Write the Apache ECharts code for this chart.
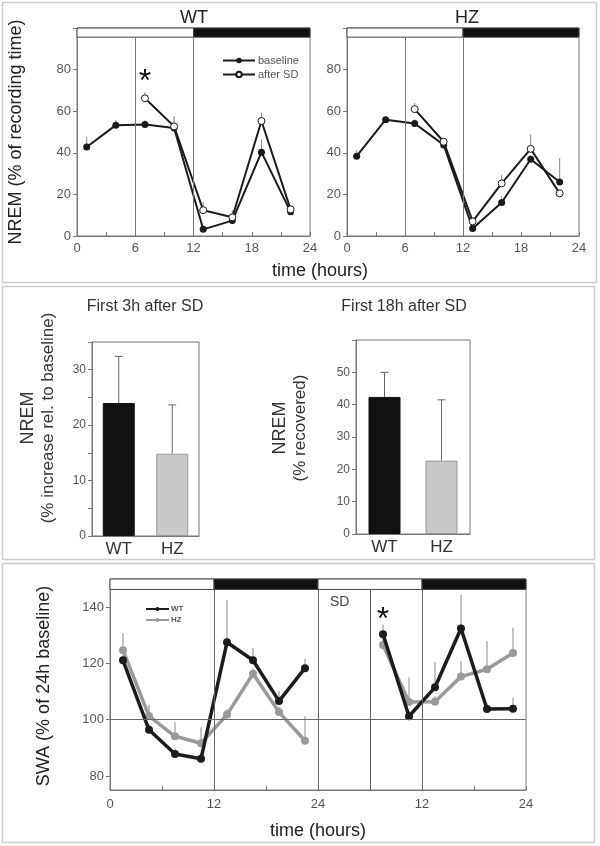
<!DOCTYPE html>
<html><head><meta charset="utf-8">
<script src="https://cdn.jsdelivr.net/npm/echarts@6/dist/echarts.min.js"></script>
<style>html,body{margin:0;padding:0;background:#fff}#c{width:600px;height:846px}</style>
</head><body><div id="c"></div>
<script>
// ---------- data ----------
const hoursAll = [1, 4, 7, 10, 13, 16, 19, 22];
const hoursSD = [7, 10, 13, 16, 19, 22];
const wtBaseline = [42.8, 53.3, 53.6, 51.9, 3.2, 7.4, 40.3, 11.6];
const wtBaselineErr = [5, 2.5, 2, 1.5, 1, 5, 6, 2];
const wtAfterSD = [66.2, 52.7, 12.4, 9.0, 55.3, 12.8];
const wtAfterSDErr = [3, 5, 4, 1.5, 4, 2];
const hzBaseline = [38.4, 55.9, 54.1, 43.8, 3.6, 16.1, 36.9, 26.0];
const hzBaselineErr = [3, 1.5, 2, 1.5, 1, 3, 2, 11.5];
const hzAfterSD = [61.0, 45.3, 7.0, 25.3, 41.9, 20.5];
const hzAfterSDErr = [3, 1.5, 2, 4, 7, 2];
const topXTicks = [0, 6, 12, 18, 24];
const topYTicks = [0, 20, 40, 60, 80];

const barCats = ['WT', 'HZ'];
const first3h = [24.0, 14.85];
const first3hErr = [8.4, 8.8];
const first18h = [42.4, 22.7];
const first18hErr = [7.6, 18.8];

const swaHours1 = [1.5, 4.5, 7.5, 10.5, 13.5, 16.5, 19.5, 22.5];
const swaHours2 = [31.5, 34.5, 37.5, 40.5, 43.5, 46.5];
const swaWT1 = [121.1, 96.4, 87.8, 86.1, 127.5, 121.1, 106.6, 118.3];
const swaWT1Err = [2, 2, 2, 2, 15, 4.4, 3.7, 3.3];
const swaHZ1 = [124.7, 101.3, 94.1, 91.6, 101.8, 116.3, 102.7, 92.5];
const swaHZ1Err = [6, 4, 5, 5.7, 2, 2, 2, 8.7];
const swaWT2 = [130.4, 101.2, 111.5, 132.4, 103.8, 103.9];
const swaWT2Err = [3.4, 2, 9, 12, 2, 4];
const swaHZ2 = [126.5, 106.3, 106.4, 115.3, 117.9, 123.7];
const swaHZ2Err = [2, 8.7, 2, 5.5, 10, 9];
const swaYTicks = [80, 100, 120, 140];

// light/dark phases [start, end, isDark]
const topPhases = [[0, 12, false], [12, 24, true]];
const swaPhases = [[0, 12, false], [12, 24, true], [24, 36, false], [36, 48, true]];

// ---------- helpers ----------
const FONT = 'Liberation Sans, Arial, sans-serif';
const zip = (xs, ys) => xs.map((x, i) => [x, ys[i]]);
const zip3 = (xs, ys, es) => xs.map((x, i) => [x, ys[i], es[i]]);
const axisGray = '#777';
const labelGray = '#555';

function errSeries(name, xi, yi, data, color, cap, z) {
  return {
    name, type: 'custom', xAxisIndex: xi, yAxisIndex: yi, z: z || 1, silent: true,
    data,
    renderItem(params, api) {
      const p0 = api.coord([api.value(0), api.value(1)]);
      const p1 = api.coord([api.value(0), api.value(1) + api.value(2)]);
      const children = [{ type: 'line', shape: { x1: p0[0], y1: p0[1], x2: p1[0], y2: p1[1] }, style: { stroke: color, lineWidth: 1 } }];
      if (cap) children.push({ type: 'line', shape: { x1: p1[0] - cap, y1: p1[1], x2: p1[0] + cap, y2: p1[1] }, style: { stroke: color, lineWidth: 1 } });
      return { type: 'group', children };
    }
  };
}
function phaseAreas(phases, y0, y1) {
  return phases.map(p => [
    { xAxis: p[0], yAxis: y0, itemStyle: { color: p[2] ? '#111' : '#fff', borderColor: '#444', borderWidth: 1, opacity: 1 } },
    { xAxis: p[1], yAxis: y1 }
  ]);
}
function vLines(xs, y0, y1) {
  return xs.map(x => [{ coord: [x, y0] }, { coord: [x, y1] }]);
}

function topXAxis(gi) {
  return {
    type: 'value', gridIndex: gi, min: 0, max: 24, interval: 6,
    axisLine: { lineStyle: { color: axisGray } },
    axisTick: { inside: true, length: 4, lineStyle: { color: axisGray } },
    minorTick: { show: true, splitNumber: 2, length: 4, lineStyle: { color: axisGray } },
    splitLine: { show: false }, minorSplitLine: { show: false },
    axisLabel: { fontSize: 13, color: labelGray, fontFamily: FONT, margin: 6 }
  };
}
function topYAxis(gi) {
  return {
    type: 'value', gridIndex: gi, min: 0, max: 100, interval: 20,
    axisLine: { show: true, lineStyle: { color: axisGray } },
    axisTick: { show: true, length: 4, lineStyle: { color: axisGray } },
    splitLine: { show: false },
    axisLabel: { fontSize: 13, color: labelGray, fontFamily: FONT, margin: 6, formatter: v => topYTicks.includes(v) ? String(v) : '' }
  };
}
function topSeries(gi, base, baseErr, after, afterErr, star) {
  const s = [
    errSeries('err-b' + gi, gi, gi, zip3(hoursAll, base, baseErr), '#888', 0, 1),
    errSeries('err-a' + gi, gi, gi, zip3(hoursSD, after, afterErr), '#888', 0, 1),
    {
      name: 'baseline', type: 'line', xAxisIndex: gi, yAxisIndex: gi, z: 3,
      data: zip(hoursAll, base), symbol: 'circle', symbolSize: 7,
      lineStyle: { color: '#1a1a1a', width: 2 }, itemStyle: { color: '#1a1a1a' },
      markArea: { silent: true, z: 4, data: phaseAreas(topPhases, 95.6, 100) },
      markLine: { silent: true, symbol: 'none', label: { show: false }, lineStyle: { color: '#777', width: 1, type: 'solid' }, data: vLines([6, 12], 0, 95.6) }
    },
    {
      name: 'after SD', type: 'line', xAxisIndex: gi, yAxisIndex: gi, z: 4,
      data: zip(hoursSD, after), symbol: 'circle', symbolSize: 7,
      lineStyle: { color: '#1a1a1a', width: 2 }, itemStyle: { color: '#fff', borderColor: '#1a1a1a', borderWidth: 1 }
    }
  ];
  if (star) {
    s[3].markPoint = { silent: true, symbol: 'circle', symbolSize: 0, data: [{ coord: star }],
      label: { show: true, formatter: '*', fontSize: 32, color: '#111', fontFamily: FONT } };
  }
  return s;
}

const option = {
  animation: false,
  backgroundColor: '#fff',
  textStyle: { fontFamily: FONT },
  grid: [
    { left: 77, top: 28, width: 233, height: 208, show: true, borderColor: axisGray, borderWidth: 1, backgroundColor: 'transparent' },
    { left: 347, top: 28, width: 232, height: 208, show: true, borderColor: axisGray, borderWidth: 1, backgroundColor: 'transparent' },
    { left: 92, top: 342, width: 107, height: 194, show: true, borderColor: axisGray, borderWidth: 1, backgroundColor: 'transparent' },
    { left: 356, top: 340, width: 114, height: 194, show: true, borderColor: axisGray, borderWidth: 1, backgroundColor: 'transparent' },
    { left: 110, top: 579, width: 416, height: 211, show: true, borderColor: axisGray, borderWidth: 1, backgroundColor: 'transparent' }
  ],
  xAxis: [
    topXAxis(0), topXAxis(1),
    { type: 'category', gridIndex: 2, data: barCats, axisLine: { lineStyle: { color: axisGray } }, axisTick: { show: false },
      axisLabel: { fontSize: 17, color: '#333', fontFamily: FONT, margin: 5 } },
    { type: 'category', gridIndex: 3, data: barCats, axisLine: { lineStyle: { color: axisGray } }, axisTick: { show: false },
      axisLabel: { fontSize: 17, color: '#333', fontFamily: FONT, margin: 5 } },
    { type: 'value', gridIndex: 4, min: 0, max: 48, interval: 12,
      axisLine: { lineStyle: { color: axisGray } },
      axisTick: { inside: true, length: 4, lineStyle: { color: axisGray } },
      minorTick: { show: true, splitNumber: 2, length: 4, lineStyle: { color: axisGray } },
      splitLine: { show: false }, minorSplitLine: { show: false },
      axisLabel: { fontSize: 13, color: labelGray, fontFamily: FONT, margin: 8, formatter: v => v === 0 ? '0' : String(((v - 1) % 24) + 1) } }
  ],
  yAxis: [
    topYAxis(0), topYAxis(1),
    { type: 'value', gridIndex: 2, min: 0, max: 35, interval: 5,
      axisLine: { show: true, lineStyle: { color: axisGray } }, axisTick: { show: true, length: 4, lineStyle: { color: axisGray } },
      splitLine: { show: false },
      axisLabel: { fontSize: 12, color: labelGray, fontFamily: FONT, margin: 6, formatter: v => (v % 10 === 0 && v <= 30) ? String(v) : '' } },
    { type: 'value', gridIndex: 3, min: 0, max: 60, interval: 10,
      axisLine: { show: true, lineStyle: { color: axisGray } }, axisTick: { show: true, length: 4, lineStyle: { color: axisGray } },
      splitLine: { show: false },
      axisLabel: { fontSize: 12, color: labelGray, fontFamily: FONT, margin: 6, formatter: v => v <= 50 ? String(v) : '' } },
    { type: 'value', gridIndex: 4, min: 75, max: 150,
      axisLine: { show: true, lineStyle: { color: axisGray } },
      axisTick: { show: true, length: 4, customValues: swaYTicks, lineStyle: { color: axisGray } },
      splitLine: { show: false },
      axisLabel: { fontSize: 13, color: labelGray, fontFamily: FONT, margin: 6, customValues: swaYTicks } }
  ],
  legend: [
    { data: ['baseline', 'after SD'], orient: 'vertical', left: 217, top: 50, itemWidth: 32, itemHeight: 7, itemGap: 3,
      textStyle: { fontSize: 11, color: labelGray, fontFamily: FONT, padding: [0, 0, 0, -2] }, selectedMode: false },
    { data: ['WT', 'HZ'], orient: 'vertical', left: 140, top: 600, itemWidth: 23, itemHeight: 5, itemGap: 3,
      textStyle: { fontSize: 8, fontWeight: 'bold', color: labelGray, fontFamily: FONT, padding: [0, 0, 0, -3] }, selectedMode: false }
  ],
  series: [
    ...topSeries(0, wtBaseline, wtBaselineErr, wtAfterSD, wtAfterSDErr, [7, 74]),
    ...topSeries(1, hzBaseline, hzBaselineErr, hzAfterSD, hzAfterSDErr, null),
    // middle bars
    { name: 'first3h', type: 'bar', xAxisIndex: 2, yAxisIndex: 2, barWidth: 32, z: 2,
      data: first3h.map((v, i) => ({ value: v, itemStyle: i === 0 ? { color: '#111', borderColor: '#111', borderWidth: 1 } : { color: '#c8c8c8', borderColor: '#999', borderWidth: 1 } })) },
    { name: 'first3hErr', type: 'custom', xAxisIndex: 2, yAxisIndex: 2, z: 1, silent: true,
      data: barCats.map((c, i) => [i, first3h[i], first3hErr[i]]),
      renderItem(params, api) {
        const p0 = api.coord([api.value(0), api.value(1)]);
        const p1 = api.coord([api.value(0), api.value(1) + api.value(2)]);
        return { type: 'group', children: [
          { type: 'line', shape: { x1: p0[0], y1: p0[1], x2: p1[0], y2: p1[1] }, style: { stroke: '#666', lineWidth: 1 } },
          { type: 'line', shape: { x1: p1[0] - 4, y1: p1[1], x2: p1[0] + 4, y2: p1[1] }, style: { stroke: '#666', lineWidth: 1 } }
        ] };
      } },
    { name: 'first18h', type: 'bar', xAxisIndex: 3, yAxisIndex: 3, barWidth: 32, z: 2,
      data: first18h.map((v, i) => ({ value: v, itemStyle: i === 0 ? { color: '#111', borderColor: '#111', borderWidth: 1 } : { color: '#c8c8c8', borderColor: '#999', borderWidth: 1 } })) },
    { name: 'first18hErr', type: 'custom', xAxisIndex: 3, yAxisIndex: 3, z: 1, silent: true,
      data: barCats.map((c, i) => [i, first18h[i], first18hErr[i]]),
      renderItem(params, api) {
        const p0 = api.coord([api.value(0), api.value(1)]);
        const p1 = api.coord([api.value(0), api.value(1) + api.value(2)]);
        return { type: 'group', children: [
          { type: 'line', shape: { x1: p0[0], y1: p0[1], x2: p1[0], y2: p1[1] }, style: { stroke: '#666', lineWidth: 1 } },
          { type: 'line', shape: { x1: p1[0] - 4, y1: p1[1], x2: p1[0] + 4, y2: p1[1] }, style: { stroke: '#666', lineWidth: 1 } }
        ] };
      } },
    // bottom SWA
    errSeries('swaErrWT1', 4, 4, zip3(swaHours1, swaWT1, swaWT1Err), '#888', 0, 1),
    errSeries('swaErrHZ1', 4, 4, zip3(swaHours1, swaHZ1, swaHZ1Err), '#888', 0, 1),
    errSeries('swaErrWT2', 4, 4, zip3(swaHours2, swaWT2, swaWT2Err), '#888', 0, 1),
    errSeries('swaErrHZ2', 4, 4, zip3(swaHours2, swaHZ2, swaHZ2Err), '#888', 0, 1),
    { name: 'HZ', type: 'line', xAxisIndex: 4, yAxisIndex: 4, z: 3, data: zip(swaHours1, swaHZ1),
      symbol: 'circle', symbolSize: 8, lineStyle: { color: '#9a9a9a', width: 3.5 }, itemStyle: { color: '#9a9a9a' },
      markArea: { silent: true, z: 4, data: phaseAreas(swaPhases, 146.3, 150) },
      markLine: { silent: true, symbol: 'none', label: { show: false }, lineStyle: { color: '#666', width: 1, type: 'solid' },
        data: vLines([12, 24, 30, 36], 75, 146.3).concat([[{ coord: [0, 100] }, { coord: [48, 100] }]]) } },
    { name: 'HZ', type: 'line', xAxisIndex: 4, yAxisIndex: 4, z: 3, data: zip(swaHours2, swaHZ2),
      symbol: 'circle', symbolSize: 8, lineStyle: { color: '#9a9a9a', width: 3.5 }, itemStyle: { color: '#9a9a9a' } },
    { name: 'WT', type: 'line', xAxisIndex: 4, yAxisIndex: 4, z: 4, data: zip(swaHours1, swaWT1),
      symbol: 'circle', symbolSize: 8, lineStyle: { color: '#1c1c1c', width: 3.5 }, itemStyle: { color: '#1c1c1c' } },
    { name: 'WT', type: 'line', xAxisIndex: 4, yAxisIndex: 4, z: 4, data: zip(swaHours2, swaWT2),
      symbol: 'circle', symbolSize: 8, lineStyle: { color: '#1c1c1c', width: 3.5 }, itemStyle: { color: '#1c1c1c' },
      markPoint: { silent: true, symbol: 'circle', symbolSize: 0,
        data: [
          { coord: [31.5, 135.5], label: { show: true, formatter: '*', fontSize: 32, color: '#111', fontFamily: FONT } },
          { coord: [26.5, 141.8], label: { show: true, formatter: 'SD', fontSize: 14, color: '#444', fontFamily: FONT } }
        ] } }
  ],
  graphic: [
    { type: 'rect', shape: { x: 2.5, y: 2.5, width: 594, height: 280 }, style: { fill: 'none', stroke: '#ccc', lineWidth: 1.5 }, silent: true, z: -10 },
    { type: 'rect', shape: { x: 2.5, y: 286.5, width: 592, height: 273 }, style: { fill: 'none', stroke: '#ccc', lineWidth: 1.5 }, silent: true, z: -10 },
    { type: 'rect', shape: { x: 2.5, y: 563.5, width: 592, height: 279 }, style: { fill: 'none', stroke: '#ccc', lineWidth: 1.5 }, silent: true, z: -10 },
    { type: 'text', x: 194, y: 18, style: { text: 'WT', font: '18px ' + FONT, fill: '#222', textAlign: 'center', textVerticalAlign: 'middle' } },
    { type: 'text', x: 467, y: 18, style: { text: 'HZ', font: '18px ' + FONT, fill: '#222', textAlign: 'center', textVerticalAlign: 'middle' } },
    { type: 'text', x: 320, y: 271, style: { text: 'time (hours)', font: '18px ' + FONT, fill: '#222', textAlign: 'center', textVerticalAlign: 'middle' } },
    { type: 'text', x: 16, y: 132, rotation: Math.PI / 2, style: { text: 'NREM (% of recording time)', font: '18px ' + FONT, fill: '#222', textAlign: 'center', textVerticalAlign: 'middle' } },
    { type: 'text', x: 145, y: 307, style: { text: 'First 3h after SD', font: '16px ' + FONT, fill: '#333', textAlign: 'center', textVerticalAlign: 'middle' } },
    { type: 'text', x: 404, y: 307, style: { text: 'First 18h after SD', font: '16px ' + FONT, fill: '#333', textAlign: 'center', textVerticalAlign: 'middle' } },
    { type: 'text', x: 28, y: 418, rotation: Math.PI / 2, style: { text: 'NREM', font: '18px ' + FONT, fill: '#333', textAlign: 'center', textVerticalAlign: 'middle' } },
    { type: 'text', x: 48, y: 418, rotation: Math.PI / 2, style: { text: '(% increase rel. to baseline)', font: '17px ' + FONT, fill: '#333', textAlign: 'center', textVerticalAlign: 'middle' } },
    { type: 'text', x: 280, y: 428, rotation: Math.PI / 2, style: { text: 'NREM', font: '18px ' + FONT, fill: '#333', textAlign: 'center', textVerticalAlign: 'middle' } },
    { type: 'text', x: 300, y: 428, rotation: Math.PI / 2, style: { text: '(% recovered)', font: '17px ' + FONT, fill: '#333', textAlign: 'center', textVerticalAlign: 'middle' } },
    { type: 'text', x: 44, y: 686, rotation: Math.PI / 2, style: { text: 'SWA (% of 24h baseline)', font: '18px ' + FONT, fill: '#222', textAlign: 'center', textVerticalAlign: 'middle' } },
    { type: 'text', x: 318, y: 831, style: { text: 'time (hours)', font: '18px ' + FONT, fill: '#222', textAlign: 'center', textVerticalAlign: 'middle' } }
  ]
};
const chart = echarts.init(document.getElementById('c'), null, { renderer: 'canvas' });
chart.setOption(option);
</script></body></html>
